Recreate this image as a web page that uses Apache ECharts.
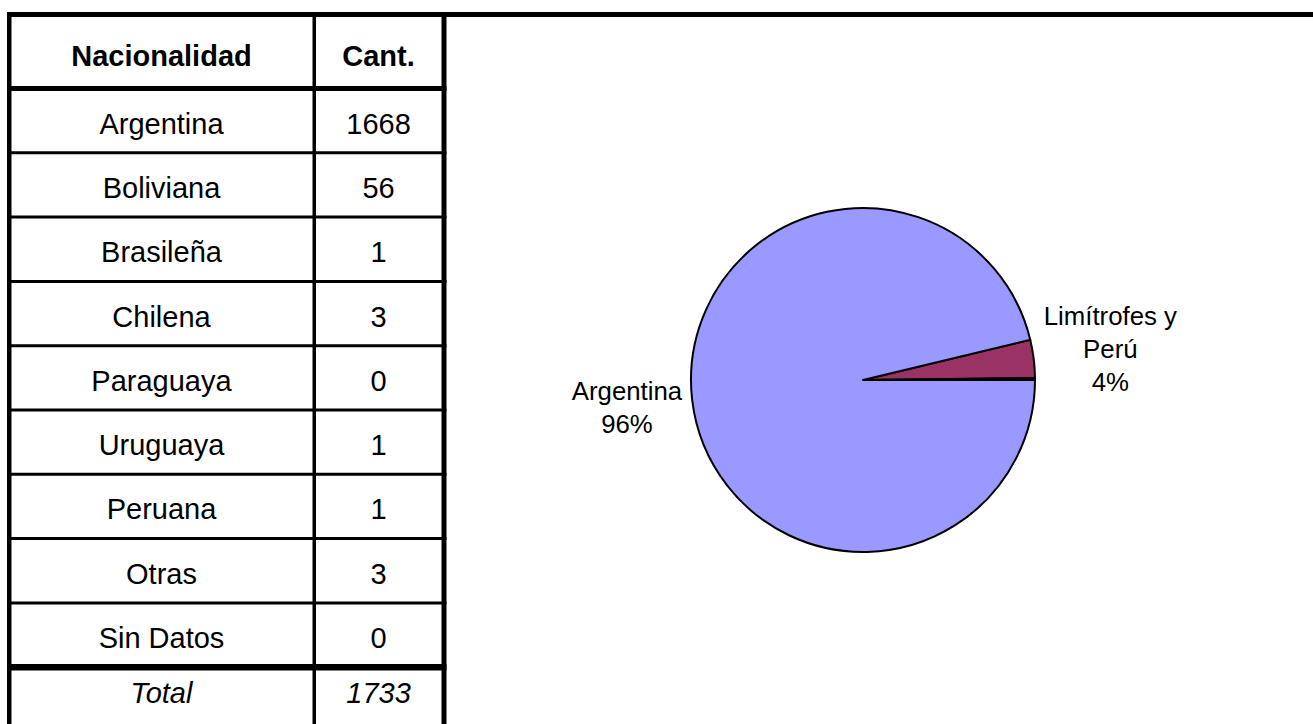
<!DOCTYPE html>
<html>
<head>
<meta charset="utf-8">
<script src="https://cdn.jsdelivr.net/npm/echarts@6/dist/echarts.min.js"></script>
<style>
html,body{margin:0;padding:0;background:#fff;overflow:hidden}
#c{width:1313px;height:724px}
</style>
</head>
<body>
<div id="c"></div>
<script>
// ---- data ----
const nacionalidades = ['Argentina','Boliviana','Brasileña','Chilena','Paraguaya','Uruguaya','Peruana','Otras','Sin Datos'];
const cantidades = [1668, 56, 1, 3, 0, 1, 1, 3, 0];
const encabezados = ['Nacionalidad', 'Cant.'];
const etiquetaTotal = 'Total';
const limitrofesYPeru = ['Boliviana','Brasileña','Chilena','Paraguaya','Uruguaya','Peruana'];
const gruposTorta = ['Limítrofes y Perú', 'Otras', 'Argentina'];
const etiquetasTorta = ['Limítrofes y\nPerú', '', 'Argentina'];
const coloresTorta = ['#993366', '#FFFFFF', '#9999FF'];

const valor = n => cantidades[nacionalidades.indexOf(n)];
const total = cantidades.reduce((a, b) => a + b, 0);
const valoresTorta = [
  limitrofesYPeru.reduce((s, n) => s + valor(n), 0),
  valor('Otras'),
  valor('Argentina')
];

// ---- table layout ----
const FONT = '"Liberation Sans", Arial, sans-serif';
const T = { left: 7, top: 12, colX: 312.5, right: 441.5, headerBottom: 86, firstRow: 88.5, rowH: 64.3, bottom: 740 };
const colCenters = [161.5, 378.5];
const blk = '#000';

const graphics = [];
function rect(x, y, w, h) {
  graphics.push({ type: 'rect', silent: true, shape: { x, y, width: w, height: h }, style: { fill: blk } });
}
function txt(s, x, y, opts) {
  graphics.push({
    type: 'text', silent: true, x, y,
    style: Object.assign({ text: s, fill: blk, fontFamily: FONT, fontSize: 29, align: 'center', verticalAlign: 'middle' }, opts || {})
  });
}
// borders
rect(T.left, T.top, 1313 - T.left, 5);               // top line (full width)
rect(T.left, T.top, 4.5, T.bottom - T.top);          // left border
rect(T.colX, T.top, 3.5, T.bottom - T.top);          // column divider
rect(T.right, T.top, 5, T.bottom - T.top);           // right border
rect(T.left, T.headerBottom, T.right + 5 - T.left, 5); // header bottom
for (let k = 1; k < nacionalidades.length; k++) {
  const y = T.firstRow + T.rowH * k;
  rect(T.left, y - 1.5, T.right + 5 - T.left, 3);
}
const totalLineY = T.firstRow + T.rowH * nacionalidades.length;
rect(T.left, totalLineY - 3.3, T.right + 5 - T.left, 6.5);

// header text
encabezados.forEach((h, i) => txt(h, colCenters[i], 56.4, { fontWeight: 'bold' }));
// rows
nacionalidades.forEach((n, k) => {
  const y = T.firstRow + T.rowH * k + T.rowH / 2 + 3;
  txt(n, colCenters[0], y);
  txt(String(cantidades[k]), colCenters[1], y);
});
// total
txt(etiquetaTotal, colCenters[0], 693.4, { fontStyle: 'italic' });
txt(String(total), colCenters[1], 693.4, { fontStyle: 'italic' });

// ---- chart ----
const chart = echarts.init(document.getElementById('c'), null, { renderer: 'svg' });
const startAngle = (valoresTorta[0] + valoresTorta[1]) / total * 360;

chart.setOption({
  animation: false,
  backgroundColor: '#fff',
  graphic: graphics,
  series: [{
    type: 'pie',
    silent: true,
    center: [863, 380],
    radius: 172,
    startAngle: startAngle,
    clockwise: true,
    avoidLabelOverlap: false,
    minShowLabelAngle: 0,
    itemStyle: { borderColor: '#000', borderWidth: 2 },
    emphasis: { disabled: true },
    labelLine: { show: false, length: 0, length2: 0 },
    label: {
      position: 'outside',
      distanceToLabelLine: 10,
      color: '#000',
      fontFamily: FONT,
      fontSize: 25.8,
      lineHeight: 33,
      formatter: p => etiquetasTorta[p.dataIndex].split('\n').map(s => '{c|' + s + '}').join('\n') + '\n{c|' + Math.round(p.percent) + '%}',
      rich: { c: { align: 'center', fontFamily: FONT, fontSize: 25.8, lineHeight: 33, color: '#000' } }
    },
    labelLayout: p => ({ dy: p.dataIndex === 2 ? 7 : -10 }),
    data: gruposTorta.map((g, i) => ({
      name: g,
      value: valoresTorta[i],
      itemStyle: { color: coloresTorta[i] },
      label: { show: etiquetasTorta[i] !== '' }
    }))
  }]
});
</script>
</body>
</html>
